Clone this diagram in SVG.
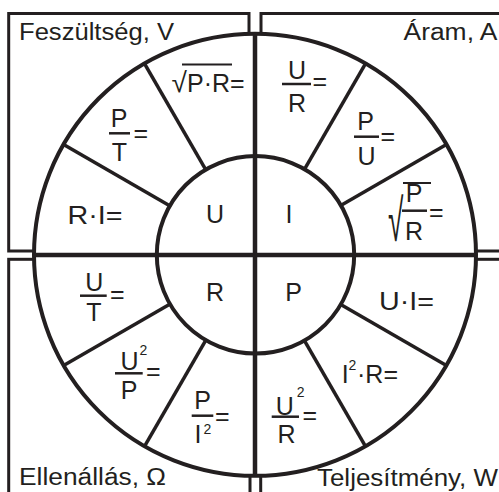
<svg xmlns="http://www.w3.org/2000/svg" width="499" height="492" viewBox="0 0 499 492">
<style>
text{font-family:"Liberation Sans",Arial,sans-serif;fill:#231f20}
.t{font-size:23.5px}
.f{font-size:25px}
.m{text-anchor:middle}
.s{font-size:14px}
.box{fill:none;stroke:#231f20;stroke-width:3}
.ring{fill:#fff;stroke:#231f20;stroke-width:4}
.inner{fill:none;stroke:#231f20;stroke-width:4}
.ax{stroke:#231f20;stroke-width:4.5}
.rad{stroke:#231f20;stroke-width:3.5}
.bar{stroke:#231f20;stroke-width:2.5}
.ob{stroke:#231f20;stroke-width:2}
</style>
<rect width="499" height="492" fill="#fff"/>
<g id="frames">
<g id="q-voltage"><rect class="box" x="8.7" y="13.5" width="240.3" height="237.5"/><text class="t" x="19" y="40" textLength="155" lengthAdjust="spacingAndGlyphs">Feszültség, V</text></g>
<g id="q-current"><rect class="box" x="261" y="13.5" width="260" height="237.5"/><text class="t" x="403.5" y="40" textLength="94" lengthAdjust="spacingAndGlyphs">Áram, A</text></g>
<g id="q-resistance"><rect class="box" x="8.7" y="259.3" width="241.3" height="260"/><text class="t" x="19" y="485" textLength="147" lengthAdjust="spacingAndGlyphs">Ellenállás, Ω</text></g>
<g id="q-power"><rect class="box" x="260.7" y="259.3" width="260" height="260"/><text class="t" x="317" y="486" textLength="181" lengthAdjust="spacingAndGlyphs">Teljesítmény, W</text></g>
</g>
<g id="wheel">
<circle class="ring" cx="255" cy="254.8" r="221"/>
</g>
<g id="connectors">
<line class="ax" x1="255" y1="34" x2="255" y2="476"/>
<line class="ax" x1="34" y1="255" x2="476" y2="255"/>
<circle class="inner" cx="255.5" cy="254.8" r="98.7"/>
<line class="rad" x1="205.7" y1="169.7" x2="144.5" y2="63.6"/>
<line class="rad" x1="169.7" y1="205.7" x2="63.6" y2="144.5"/>
<line class="rad" x1="304.3" y1="169.7" x2="365.5" y2="63.6"/>
<line class="rad" x1="340.3" y1="205.7" x2="446.4" y2="144.5"/>
<line class="rad" x1="169.7" y1="304.3" x2="63.6" y2="365.5"/>
<line class="rad" x1="205.7" y1="340.3" x2="144.5" y2="446.4"/>
<line class="rad" x1="340.3" y1="304.3" x2="446.4" y2="365.5"/>
<line class="rad" x1="304.3" y1="340.3" x2="365.5" y2="446.4"/>
</g>
<g id="center-U"><text class="f m" x="215" y="223">U</text></g>
<g id="center-I"><text class="f m" x="289" y="223">I</text></g>
<g id="center-R"><text class="f m" x="215" y="301">R</text></g>
<g id="center-P"><text class="f m" x="293.5" y="301">P</text></g>
<g id="u-sqrt-pr">
<text class="f" x="171.5" y="92" style="font-size:28px">√</text>
<line class="ob" x1="182" y1="64.5" x2="232" y2="64.5"/>
<text class="f" x="187" y="92">P·R=</text>
</g>
<g id="u-p-t">
<text class="f m" x="119" y="127">P</text><line class="bar" x1="109" y1="133.3" x2="130" y2="133.3"/><text class="f m" x="119.5" y="161">T</text><text class="f" x="133.5" y="142">=</text>
</g>
<g id="u-r-i"><text class="f" x="67.5" y="224" textLength="55" lengthAdjust="spacingAndGlyphs">R·I=</text></g>
<g id="i-u-r">
<text class="f m" x="297" y="79">U</text><line class="bar" x1="282" y1="84" x2="311" y2="84"/><text class="f m" x="297" y="112">R</text><text class="f" x="312.5" y="90">=</text>
</g>
<g id="i-p-u">
<text class="f m" x="365.5" y="129.5">P</text><line class="bar" x1="354" y1="136.7" x2="379" y2="136.7"/><text class="f m" x="366.5" y="164.5">U</text><text class="f" x="380.5" y="144.7">=</text>
</g>
<g id="i-sqrt-p-r">
<text class="f" transform="translate(388,241) scale(1,2.1)" style="font-size:28px">√</text>
<line class="ob" x1="403" y1="183" x2="431" y2="183"/>
<text class="f m" x="414" y="202">P</text><line class="bar" x1="402" y1="210.7" x2="427" y2="210.7"/><text class="f m" x="414" y="239.5">R</text><text class="f" x="429" y="221">=</text>
</g>
<g id="r-u-t">
<text class="f m" x="94.2" y="291">U</text><line class="bar" x1="80" y1="295.7" x2="106.7" y2="295.7"/><text class="f m" x="94" y="321">T</text><text class="f" x="110" y="303">=</text>
</g>
<g id="r-u2-p">
<text class="f m" x="129.5" y="369.5">U</text><text class="s" x="139.5" y="355">2</text><line class="bar" x1="115" y1="373.3" x2="142.7" y2="373.3"/><text class="f m" x="129" y="399">P</text><text class="f" x="146" y="379.7">=</text>
</g>
<g id="r-p-i2">
<text class="f m" x="202.7" y="409">P</text><line class="bar" x1="191.7" y1="415.7" x2="213.3" y2="415.7"/><text class="f" x="194.5" y="443">I</text><text class="s" x="203.5" y="433.5">2</text><text class="f" x="215" y="424.7">=</text>
</g>
<g id="p-u-i"><text class="f" x="379" y="310" textLength="55" lengthAdjust="spacingAndGlyphs">U·I=</text></g>
<g id="p-i2-r">
<text class="f"><tspan x="341.7" y="383.3">I</tspan><tspan class="s" x="348.5" y="370">2</tspan><tspan x="357" y="383.3">·R=</tspan></text>
</g>
<g id="p-u2-r">
<text class="f m" x="284.9" y="414.5">U</text><text class="s" x="296.7" y="396.7">2</text><line class="bar" x1="271.7" y1="416.7" x2="299" y2="416.7"/><text class="f m" x="286.5" y="443">R</text><text class="f" x="302.5" y="423.7">=</text>
</g>
</svg>
